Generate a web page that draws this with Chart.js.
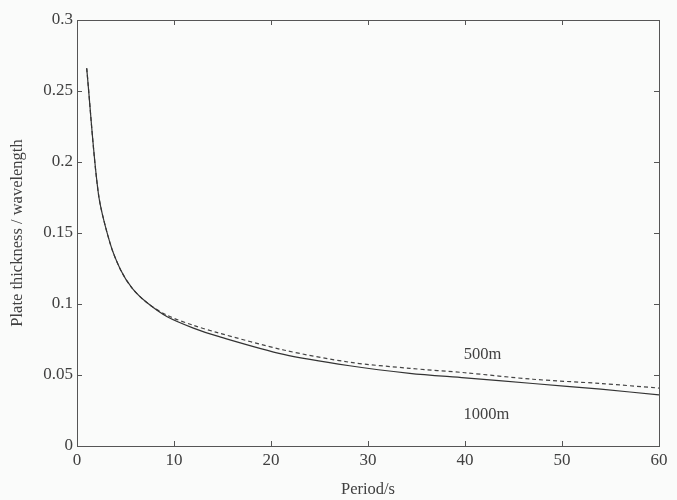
<!DOCTYPE html>
<html>
<head>
<meta charset="utf-8">
<script src="https://cdn.jsdelivr.net/npm/chart.js@4/dist/chart.umd.min.js"></script>
<style>
html,body{margin:0;padding:0;background:#fafbfa;}
#wrap{width:677px;height:500px;}
</style>
</head>
<body>
<div id="wrap"><canvas id="c" width="677" height="500"></canvas></div>
<script>
const periods1000 = [1, 2.2, 3.4, 4.5, 5.7, 7.2, 9.3, 12, 14.4, 21.3, 28.1, 34.3, 40, 47, 54, 60];
const ratio1000   = [0.266, 0.178, 0.143, 0.124, 0.111, 0.101, 0.091, 0.083, 0.0775, 0.0645, 0.0565, 0.0512, 0.048, 0.044, 0.040, 0.036];
const periods500  = [1, 2.2, 3.4, 4.5, 5.7, 7.2, 9.3, 12, 14.4, 21.3, 28.1, 34.3, 40, 47, 54, 60];
const ratio500    = [0.266, 0.178, 0.143, 0.124, 0.111, 0.101, 0.092, 0.085, 0.080, 0.0676, 0.059, 0.0547, 0.0516, 0.047, 0.044, 0.0408];
const xTicks = [0, 10, 20, 30, 40, 50, 60];
const yTicks = [0, 0.05, 0.1, 0.15, 0.2, 0.25, 0.3];
const labels = [
  {text: '500m', x: 41.8, y: 0.064},
  {text: '1000m', x: 42.2, y: 0.022}
];

const ink = '#404040';
const font = "'Liberation Serif', 'DejaVu Serif', serif";

const toPts = (xs, ys) => xs.map((x, i) => ({x: x, y: ys[i]}));

const framePlugin = {
  id: 'frame',
  afterDatasetsDraw(chart) {
    const {ctx, chartArea: a, scales: {x, y}} = chart;
    ctx.save();
    ctx.strokeStyle = '#555';
    ctx.lineWidth = 1;
    ctx.strokeRect(a.left + 0.5, a.top + 0.5, a.right - a.left, a.bottom - a.top);
    const L = 5;
    ctx.beginPath();
    xTicks.forEach(v => {
      const px = Math.round(x.getPixelForValue(v)) + 0.5;
      ctx.moveTo(px, a.bottom); ctx.lineTo(px, a.bottom - L);
      ctx.moveTo(px, a.top); ctx.lineTo(px, a.top + L);
    });
    yTicks.forEach(v => {
      const py = Math.round(y.getPixelForValue(v)) + 0.5;
      ctx.moveTo(a.left, py); ctx.lineTo(a.left + L, py);
      ctx.moveTo(a.right, py); ctx.lineTo(a.right - L, py);
    });
    ctx.stroke();
    ctx.fillStyle = ink;
    ctx.font = '16.5px ' + font;
    ctx.textAlign = 'center';
    ctx.textBaseline = 'middle';
    labels.forEach(l => {
      ctx.fillText(l.text, x.getPixelForValue(l.x), y.getPixelForValue(l.y));
    });
    ctx.restore();
  }
};

new Chart(document.getElementById('c'), {
  type: 'line',
  data: {
    datasets: [
      {label: '1000m', data: toPts(periods1000, ratio1000), borderColor: '#333', borderWidth: 1.2, pointRadius: 0, tension: 0.3, fill: false},
      {label: '500m', data: toPts(periods500, ratio500), borderColor: '#444', borderWidth: 1.2, borderDash: [4, 3], pointRadius: 0, tension: 0.3, fill: false}
    ]
  },
  options: {
    responsive: false,
    animation: false,
    devicePixelRatio: 1,
    layout: {padding: {top: 20, right: 18, left: 0, bottom: 0}},
    plugins: {legend: {display: false}, tooltip: {enabled: false}},
    scales: {
      x: {
        type: 'linear', min: 0, max: 60,
        afterBuildTicks: s => { s.ticks = xTicks.map(v => ({value: v})); },
        afterFit: s => { s.height = 54; },
        grid: {display: false, drawTicks: false},
        border: {display: false},
        ticks: {color: ink, font: {family: font, size: 17}, padding: 4, maxRotation: 0,
                callback: v => String(v)},
        title: {display: true, text: 'Period/s', color: ink, font: {family: font, size: 16.5}, padding: {top: 6, bottom: 0}}
      },
      y: {
        type: 'linear', min: 0, max: 0.3,
        afterBuildTicks: s => { s.ticks = yTicks.map(v => ({value: v})); },
        afterFit: s => { s.width = 77; },
        grid: {display: false, drawTicks: false},
        border: {display: false},
        ticks: {color: ink, font: {family: font, size: 17}, padding: 4,
                callback: v => String(+v.toFixed(2))},
        title: {display: true, text: 'Plate thickness / wavelength', color: ink, font: {family: font, size: 16.5}, padding: {top: 8, bottom: 4}}
      }
    }
  },
  plugins: [framePlugin]
});
</script>
</body>
</html>
